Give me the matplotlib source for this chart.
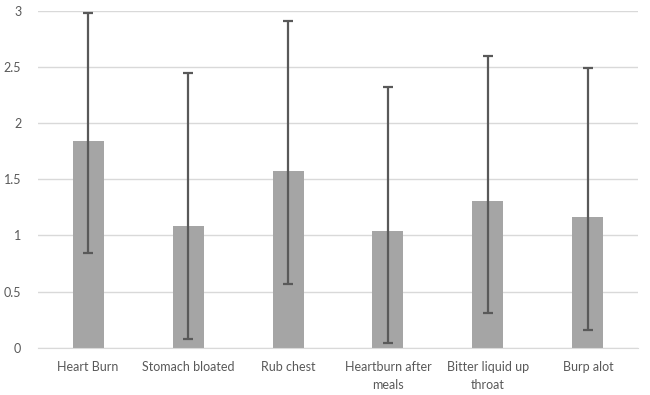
import matplotlib
matplotlib.use("Agg")
import matplotlib.pyplot as plt
import numpy as np

plt.rcParams['font.family'] = ['Lato', 'DejaVu Sans']

# symptoms and mean scores
symptoms = ["Heart Burn", "Stomach bloated", "Rub chest",
            "Heartburn after\nmeals", "Bitter liquid up\nthroat", "Burp alot"]
means = [1.84, 1.08, 1.57, 1.04, 1.31, 1.16]
err_low = [1.0, 1.0, 1.0, 1.0, 1.0, 1.0]
err_high = [1.14, 1.37, 1.34, 1.28, 1.29, 1.33]

fig = plt.figure(figsize=(6.5, 3.95), dpi=100)
ax = fig.add_axes([0.0585, 0.12, 0.923, 0.852])

x = np.arange(len(symptoms))
ax.bar(x, means, width=0.31, color="#A5A5A5", zorder=2)
ax.errorbar(x, means, yerr=[err_low, err_high], fmt="none",
            ecolor="#595959", elinewidth=1.6, capsize=3.5, capthick=1.6, zorder=3)

ax.set_xlim(-0.5, len(symptoms) - 0.5)
ax.set_ylim(0, 3)
ax.set_yticks(np.arange(0, 3.01, 0.5))
ax.set_yticklabels(["0", "0.5", "1", "1.5", "2", "2.5", "3"])
ax.set_xticks(x)
ax.set_xticklabels(symptoms, linespacing=1.6, va="top")

ax.grid(axis="y", color="#D9D9D9", linewidth=1, zorder=0)
for s in ["top", "right", "left"]:
    ax.spines[s].set_visible(False)
ax.spines["bottom"].set_color("#D9D9D9")
ax.tick_params(axis="both", length=0, labelsize=9, colors="#595959")
ax.tick_params(axis="x", pad=10)
ax.tick_params(axis="y", pad=12)

fig.savefig("out.png", dpi=100)
